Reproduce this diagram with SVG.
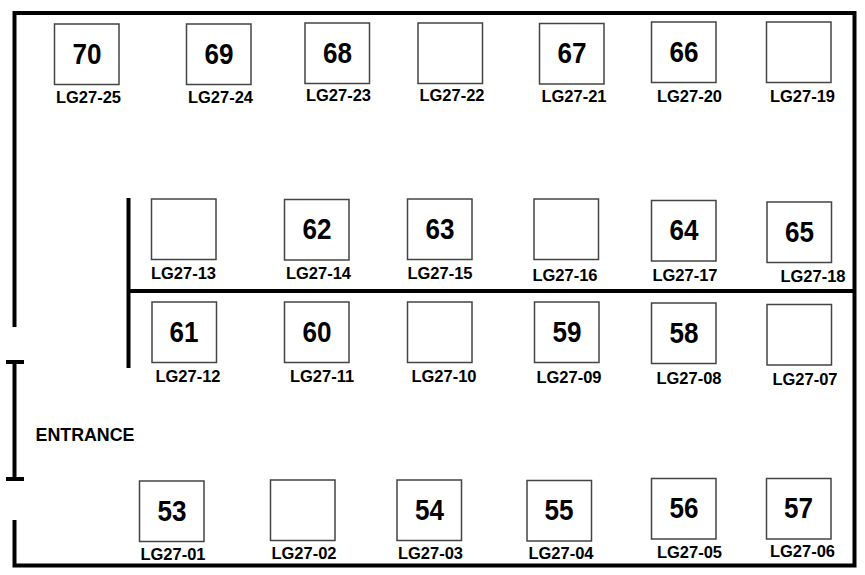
<svg xmlns="http://www.w3.org/2000/svg" width="865" height="575" viewBox="0 0 865 575">
<style>
.b{fill:#fff;stroke:#444;stroke-width:1.5}
.n{font:bold 29px "Liberation Sans",Arial,sans-serif;text-anchor:middle;fill:#000}
.l{font:bold 16.500px "Liberation Sans",Arial,sans-serif;text-anchor:middle;fill:#000}
.w{fill:none;stroke:#000;stroke-width:4}
</style>
<rect width="865" height="575" fill="#fff"/>
<g id="walls">
<path class="w" d="M14.500 327V13H854.500V565.500H14.500V520"/>
<path class="w" d="M128.500 198V368M129 291H854"/>
<path class="w" d="M14.500 362V479M6 362H24M6 479H24"/>
</g>
<g id="r70"><rect class="b" x="54.500" y="24" width="64.500" height="60.500"/><text class="n" x="87" y="64" textLength="29" lengthAdjust="spacingAndGlyphs">70</text><text class="l" x="88.500" y="103">LG27-25</text></g>
<g id="r69"><rect class="b" x="186.500" y="24" width="64.500" height="60.500"/><text class="n" x="219" y="64" textLength="29" lengthAdjust="spacingAndGlyphs">69</text><text class="l" x="220.500" y="103">LG27-24</text></g>
<g id="r68"><rect class="b" x="305" y="23" width="64.500" height="60.500"/><text class="n" x="337.500" y="63" textLength="29" lengthAdjust="spacingAndGlyphs">68</text><text class="l" x="338.500" y="101">LG27-23</text></g>
<g id="r-lg27-22"><rect class="b" x="418" y="23" width="64.500" height="60.500"/><text class="l" x="452" y="101">LG27-22</text></g>
<g id="r67"><rect class="b" x="539.500" y="23.500" width="64.500" height="60.500"/><text class="n" x="572" y="63" textLength="29" lengthAdjust="spacingAndGlyphs">67</text><text class="l" x="574" y="102">LG27-21</text></g>
<g id="r66"><rect class="b" x="651.500" y="22" width="64.500" height="60.500"/><text class="n" x="684" y="62" textLength="29" lengthAdjust="spacingAndGlyphs">66</text><text class="l" x="689.500" y="102">LG27-20</text></g>
<g id="r-lg27-19"><rect class="b" x="766.500" y="22" width="64.500" height="60.500"/><text class="l" x="802.500" y="102">LG27-19</text></g>
<g id="r-lg27-13"><rect class="b" x="151.500" y="199" width="64.500" height="60.500"/><text class="l" x="183.500" y="279">LG27-13</text></g>
<g id="r62"><rect class="b" x="284.500" y="199.500" width="64.500" height="60.500"/><text class="n" x="317" y="239" textLength="29" lengthAdjust="spacingAndGlyphs">62</text><text class="l" x="318.500" y="279">LG27-14</text></g>
<g id="r63"><rect class="b" x="407.500" y="199" width="64.500" height="60.500"/><text class="n" x="440" y="239" textLength="29" lengthAdjust="spacingAndGlyphs">63</text><text class="l" x="440" y="279">LG27-15</text></g>
<g id="r-lg27-16"><rect class="b" x="534" y="199" width="64.500" height="60.500"/><text class="l" x="565" y="281">LG27-16</text></g>
<g id="r64"><rect class="b" x="651.500" y="200.500" width="64.500" height="60.500"/><text class="n" x="684" y="240" textLength="29" lengthAdjust="spacingAndGlyphs">64</text><text class="l" x="685" y="281">LG27-17</text></g>
<g id="r65"><rect class="b" x="767" y="202" width="64.500" height="60.500"/><text class="n" x="799.500" y="242" textLength="29" lengthAdjust="spacingAndGlyphs">65</text><text class="l" x="813" y="282">LG27-18</text></g>
<g id="r61"><rect class="b" x="152" y="302" width="64.500" height="60.500"/><text class="n" x="184" y="342" textLength="29" lengthAdjust="spacingAndGlyphs">61</text><text class="l" x="188" y="382">LG27-12</text></g>
<g id="r60"><rect class="b" x="284.500" y="302" width="64.500" height="60.500"/><text class="n" x="317" y="342" textLength="29" lengthAdjust="spacingAndGlyphs">60</text><text class="l" x="322" y="382">LG27-11</text></g>
<g id="r-lg27-10"><rect class="b" x="407.500" y="302" width="64.500" height="60.500"/><text class="l" x="444" y="382">LG27-10</text></g>
<g id="r59"><rect class="b" x="534.500" y="302" width="64.500" height="60.500"/><text class="n" x="567" y="342" textLength="29" lengthAdjust="spacingAndGlyphs">59</text><text class="l" x="569" y="383">LG27-09</text></g>
<g id="r58"><rect class="b" x="651.500" y="303" width="64.500" height="60.500"/><text class="n" x="684" y="343" textLength="29" lengthAdjust="spacingAndGlyphs">58</text><text class="l" x="689" y="384">LG27-08</text></g>
<g id="r-lg27-07"><rect class="b" x="767" y="304.500" width="64.500" height="60.500"/><text class="l" x="805" y="385">LG27-07</text></g>
<g id="entrance"><text x="35.500" y="441" font-family="'Liberation Sans',Arial,sans-serif" font-weight="bold" font-size="17.500" textLength="99" lengthAdjust="spacingAndGlyphs">ENTRANCE</text></g>
<g id="r53"><rect class="b" x="139.500" y="481" width="64.500" height="60.500"/><text class="n" x="172" y="521" textLength="29" lengthAdjust="spacingAndGlyphs">53</text><text class="l" x="173" y="560">LG27-01</text></g>
<g id="r-lg27-02"><rect class="b" x="270.500" y="480" width="64.500" height="60.500"/><text class="l" x="304" y="559">LG27-02</text></g>
<g id="r54"><rect class="b" x="397" y="480" width="64.500" height="60.500"/><text class="n" x="429.500" y="520" textLength="29" lengthAdjust="spacingAndGlyphs">54</text><text class="l" x="430.500" y="559">LG27-03</text></g>
<g id="r55"><rect class="b" x="527" y="480.500" width="64.500" height="60.500"/><text class="n" x="559" y="520" textLength="29" lengthAdjust="spacingAndGlyphs">55</text><text class="l" x="561" y="559">LG27-04</text></g>
<g id="r56"><rect class="b" x="651.500" y="478.500" width="64.500" height="60.500"/><text class="n" x="684" y="518" textLength="29" lengthAdjust="spacingAndGlyphs">56</text><text class="l" x="689.500" y="558">LG27-05</text></g>
<g id="r57"><rect class="b" x="766.500" y="478.500" width="64.500" height="60.500"/><text class="n" x="798.500" y="518" textLength="29" lengthAdjust="spacingAndGlyphs">57</text><text class="l" x="802.500" y="557">LG27-06</text></g>
</svg>
